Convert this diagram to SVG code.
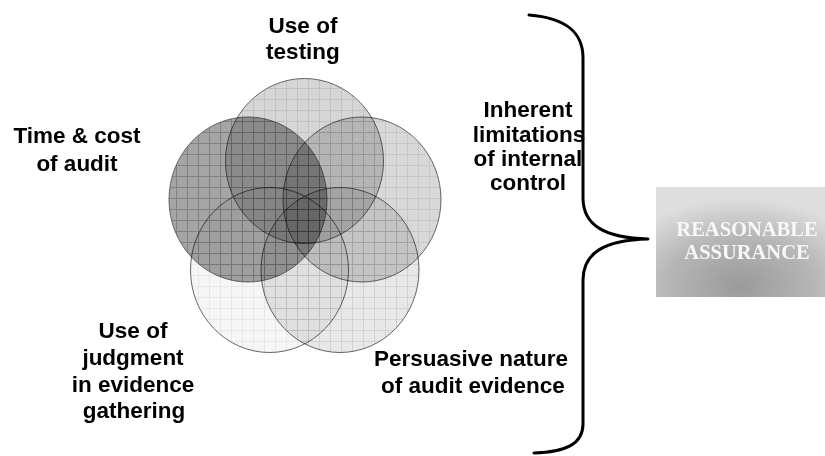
<svg xmlns="http://www.w3.org/2000/svg" width="825" height="456" viewBox="0 0 825 456">
  <defs>
    <style>
      .lbl { font-family: "Liberation Sans", Arial, sans-serif; font-weight: bold; font-size: 22.5px; fill: #000; text-anchor: middle; }
      .ra { font-family: "Liberation Serif", "Times New Roman", serif; font-weight: bold; font-size: 20.5px; fill: #f8f8f8; text-anchor: middle; }
      .circ { stroke: #555555; stroke-width: 0.9; mix-blend-mode: multiply; }
      .brace { fill: none; stroke: #000; stroke-width: 3; stroke-linecap: round; stroke-linejoin: round; }
    </style>
    <pattern id="chk" width="2" height="2" patternUnits="userSpaceOnUse">
      <rect x="0" y="0" width="1" height="1" fill="#000" fill-opacity="0.035"/>
      <rect x="1" y="1" width="1" height="1" fill="#000" fill-opacity="0.035"/>
    </pattern>
    <pattern id="pTop" width="11" height="11" patternUnits="userSpaceOnUse">
      <rect width="11" height="11" fill="#dadada"/>
      <rect width="11" height="11" fill="url(#chk)"/>
      <path d="M0.5 0V11M0 0.5H11" stroke="#c2c2c2" stroke-width="1"/>
    </pattern>
    <pattern id="pUL" width="11" height="11" patternUnits="userSpaceOnUse">
      <rect width="11" height="11" fill="#a8a8a8"/>
      <rect width="11" height="11" fill="url(#chk)"/>
      <path d="M0.5 0V11M0 0.5H11" stroke="#828282" stroke-width="1"/>
    </pattern>
    <pattern id="pUR" width="11" height="11" patternUnits="userSpaceOnUse">
      <rect width="11" height="11" fill="#dcdcdc"/>
      <rect width="11" height="11" fill="url(#chk)"/>
      <path d="M0.5 0V11M0 0.5H11" stroke="#c6c6c6" stroke-width="1"/>
    </pattern>
    <pattern id="pLL" width="11" height="11" patternUnits="userSpaceOnUse">
      <rect width="11" height="11" fill="#f6f6f6"/>
      <path d="M0.5 0V11M0 0.5H11" stroke="#e8e8e8" stroke-width="1"/>
    </pattern>
    <pattern id="pLR" width="11" height="11" patternUnits="userSpaceOnUse">
      <rect width="11" height="11" fill="#e8e8e8"/>
      <path d="M0.5 0V11M0 0.5H11" stroke="#d2d2d2" stroke-width="1"/>
    </pattern>
    <radialGradient id="boxGrad" cx="50%" cy="90%" r="80%" fx="50%" fy="90%">
      <stop offset="0" stop-color="#9a9a9a"/>
      <stop offset="0.55" stop-color="#b6b6b6"/>
      <stop offset="1" stop-color="#dedede"/>
    </radialGradient>
  </defs>
  <rect width="825" height="456" fill="#ffffff"/>

  <g id="use-of-testing">
    <ellipse class="circ" cx="304.5" cy="161" rx="79" ry="82.5" fill="url(#pTop)"/>
    <text class="lbl" x="303" y="33">Use of</text>
    <text class="lbl" x="303" y="59">testing</text>
  </g>
  <g id="time-cost">
    <ellipse class="circ" cx="248" cy="199.5" rx="79" ry="82.5" fill="url(#pUL)"/>
    <text class="lbl" x="77" y="143">Time &amp; cost</text>
    <text class="lbl" x="77" y="171">of audit</text>
  </g>
  <g id="inherent-limitations">
    <ellipse class="circ" cx="362" cy="199.5" rx="79" ry="82.5" fill="url(#pUR)"/>
    <text class="lbl" x="528" y="117">Inherent</text>
    <text class="lbl" x="529" y="142">limitations</text>
    <text class="lbl" x="528" y="166">of internal</text>
    <text class="lbl" x="528" y="190">control</text>
  </g>
  <g id="use-of-judgment">
    <ellipse class="circ" cx="269.5" cy="270" rx="79" ry="82.5" fill="url(#pLL)"/>
    <text class="lbl" x="133" y="338">Use of</text>
    <text class="lbl" x="133" y="365">judgment</text>
    <text class="lbl" x="133" y="392">in evidence</text>
    <text class="lbl" x="134" y="418">gathering</text>
  </g>
  <g id="persuasive-nature">
    <ellipse class="circ" cx="340" cy="270" rx="79" ry="82.5" fill="url(#pLR)"/>
    <text class="lbl" x="471" y="366">Persuasive nature</text>
    <text class="lbl" x="473" y="393">of audit evidence</text>
  </g>

  <g id="connectors">
    <path class="brace" d="M529 15 C566 18 583 32 583 58 L583 198 C583 226 606 238 648 239 C606 240 583 252 583 280 L583 424 C583 444 566 452 534 453"/>
  </g>

  <g id="reasonable-assurance">
    <rect x="656" y="187" width="169" height="110" fill="url(#boxGrad)"/>
    <text class="ra" x="747" y="236">REASONABLE</text>
    <text class="ra" x="747" y="259">ASSURANCE</text>
  </g>
</svg>
